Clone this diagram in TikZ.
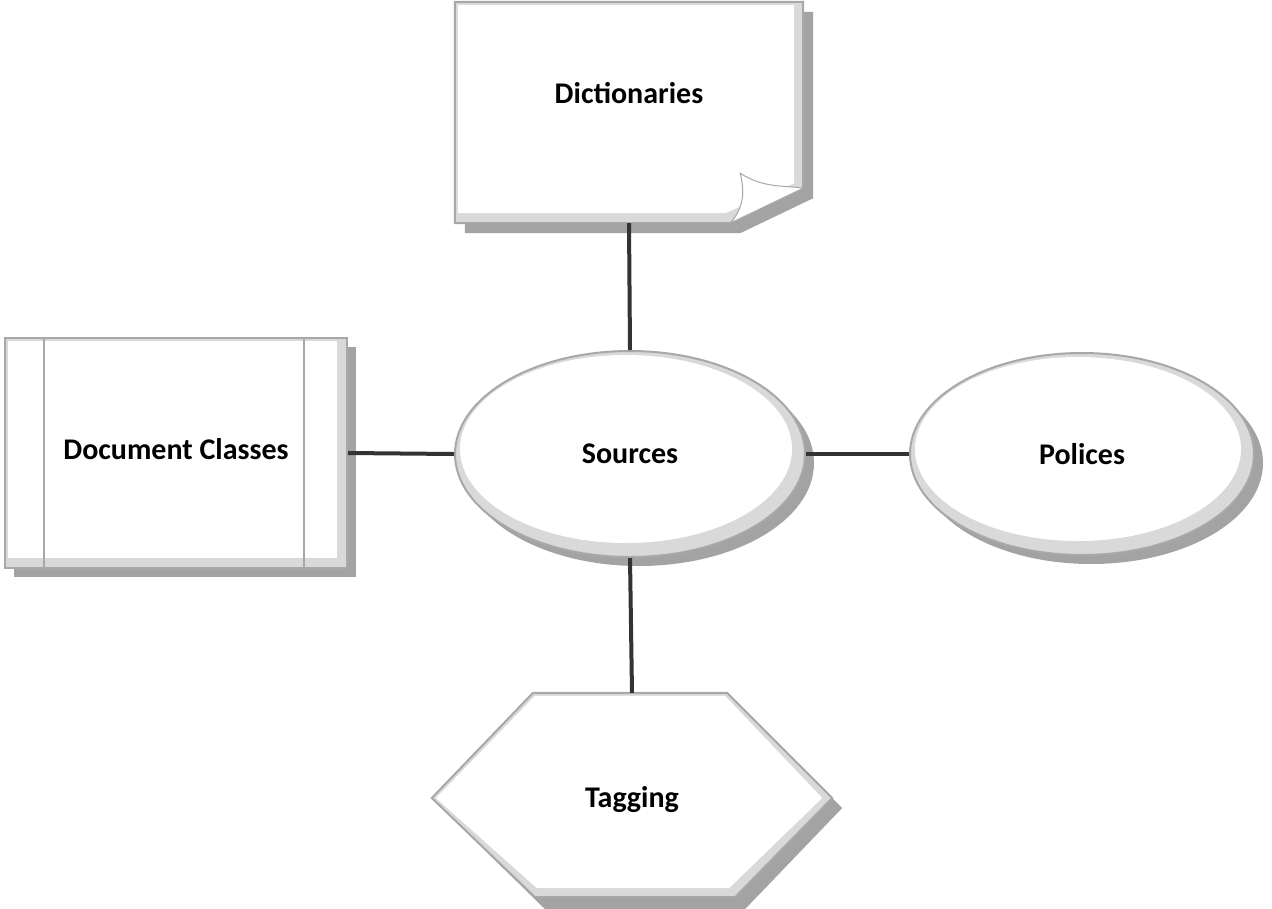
\documentclass[tikz,border=0pt]{standalone}
\usepackage{fontspec}
\setmainfont{Carlito}
\usetikzlibrary{shapes.geometric,shadows,calc,backgrounds}
\definecolor{edgegray}{HTML}{A8A8A8}
\definecolor{bevelgray}{HTML}{D9D9D9}
\definecolor{shadowgray}{HTML}{A3A3A3}
\definecolor{linkgray}{HTML}{333333}
\tikzset{
  link/.style={draw=linkgray, line width=4pt},
  outline/.style={draw=edgegray, line width=2pt},
  myshadow/.style={drop shadow={shadow xshift=9pt, shadow yshift=-9pt, fill=shadowgray, opacity=1}},
  holder/.style={rectangle, inner sep=0pt},
}
\begin{document}
\begin{tikzpicture}[x=1pt,y=-1pt, font=\fontsize{30}{36}\selectfont\bfseries]
\useasboundingbox (0,0) rectangle (1272,908);

% Sources
\node[ellipse, outline, fill=bevelgray, inner sep=0pt, myshadow, minimum width=350pt, minimum height=206pt,
  path picture={\fill[white] ($(path picture bounding box.center)+(-4,-5)$) ellipse [x radius=166, y radius=94];}]
  (src) at (630,454) {Sources};

% Polices
\node[ellipse, outline, fill=bevelgray, inner sep=0pt, myshadow, minimum width=344pt, minimum height=202pt,
  path picture={\fill[white] ($(path picture bounding box.center)+(-4,-5)$) ellipse [x radius=163, y radius=92];}]
  (pol) at (1082,454) {Polices};

% Document Classes
\node[rectangle, outline, fill=bevelgray, inner sep=0pt, myshadow, minimum width=342pt, minimum height=230pt,
  text depth=8pt,
  path picture={\fill[white] ($(path picture bounding box.north west)+(3,3)$) rectangle ($(path picture bounding box.south east)+(-10,-10)$);}]
  (dc) at (176,453) {Document Classes};
\draw[outline] ($(dc.north west)+(40,0)$) -- ($(dc.south west)+(40,0)$);
\draw[outline] ($(dc.north east)+(-44,0)$) -- ($(dc.south east)+(-44,0)$);

% Dictionaries (page with folded corner)
\node[holder, minimum width=348pt, minimum height=221pt, text depth=40pt] (dict) at (629,112.5) {Dictionaries};
\begin{scope}[on background layer]
  \fill[shadowgray] ($(dict.north west)+(10,10)$) -- ($(dict.north east)+(10,10)$)
     -- ($(dict.south east)+(10,-25)$) -- ($(dict.south east)+(-63,10)$) -- ($(dict.south west)+(10,10)$) -- cycle;
  \filldraw[outline, fill=bevelgray] (dict.north west) -- (dict.north east)
     -- ($(dict.south east)+(0,-35)$) -- ($(dict.south east)+(-73,0)$) -- (dict.south west) -- cycle;
  \fill[white] ($(dict.north west)+(3,3)$) -- ($(dict.north east)+(-9,3)$)
     -- ($(dict.south east)+(-9,-40)$) -- ($(dict.south east)+(-78,-10)$) -- ($(dict.south west)+(3,-10)$) -- cycle;
  \filldraw[draw=gray!70, line width=1pt, fill=white]
     ($(dict.south east)+(-63,-50)$) .. controls ($(dict.south east)+(-40,-35)$) and ($(dict.south east)+(-20,-38)$) .. ($(dict.south east)+(0,-35)$)
     -- ($(dict.south east)+(-73,0)$)
     .. controls ($(dict.south east)+(-60,-15)$) and ($(dict.south east)+(-58,-30)$) .. cycle;
\end{scope}

% Tagging (hexagon)
\node[holder, minimum width=400pt, minimum height=204pt, text height=30pt] (tag) at (632,795) {Tagging};
\begin{scope}[on background layer]
  \fill[shadowgray] ($(tag.north)+(-89,11)$) -- ($(tag.north)+(105,11)$) -- ($(tag.east)+(10,13)$)
     -- ($(tag.south)+(113,12)$) -- ($(tag.south)+(-87,12)$) -- ($(tag.west)+(10,13)$) -- cycle;
  \filldraw[outline, fill=bevelgray] ($(tag.north)+(-99,0)$) -- ($(tag.north)+(95,0)$) -- ($(tag.east)+(0,3)$)
     -- ($(tag.south)+(103,0)$) -- ($(tag.south)+(-97,0)$) -- ($(tag.west)+(0,3)$) -- cycle;
  \fill[white] ($(tag.north)+(-97,3)$) -- ($(tag.north)+(93,3)$) -- ($(tag.east)+(-10,3)$)
     -- ($(tag.south)+(97,-9)$) -- ($(tag.south)+(-95,-9)$) -- ($(tag.west)+(4,3)$) -- cycle;
\end{scope}

% connectors
\draw[link] (dict.south) -- (src.north);
\draw[link] (dc.east) -- (src.west);
\draw[link] (src.east) -- (pol.west);
\draw[link] (src.south) -- (tag.north);
\end{tikzpicture}
\end{document}
